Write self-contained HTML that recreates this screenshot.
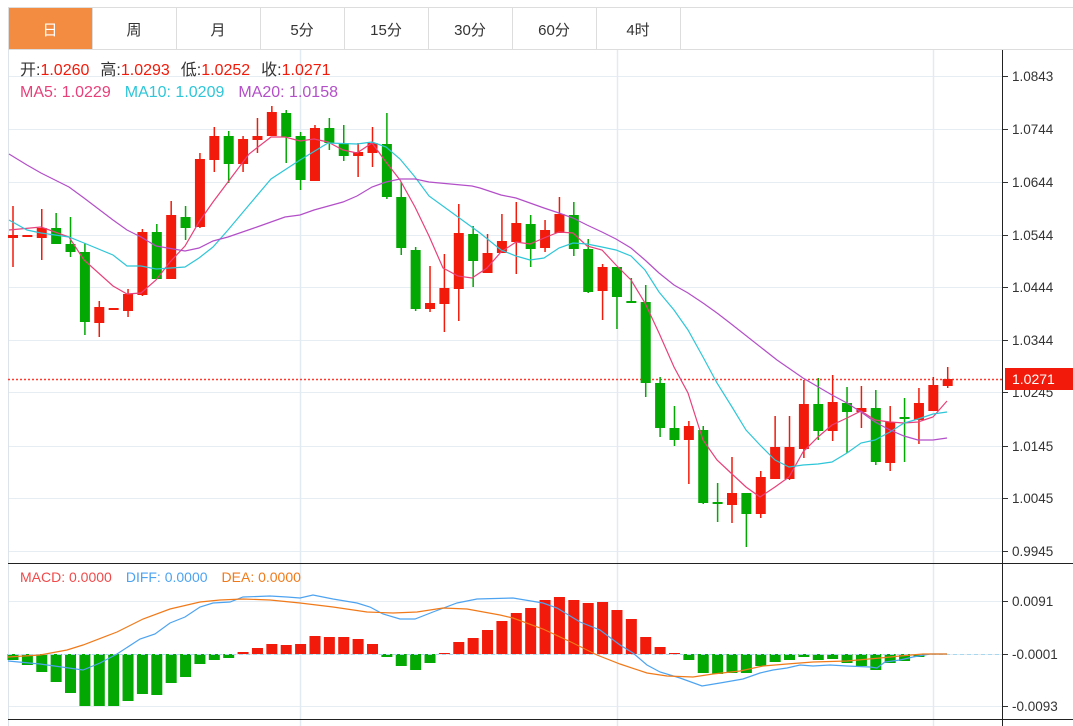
<!DOCTYPE html>
<html><head><meta charset="utf-8"><style>
body{margin:0;width:1073px;height:726px;background:#fff;overflow:hidden;font-family:"Liberation Sans","Noto Sans CJK SC",sans-serif;}
svg{position:absolute;left:0;top:0}
</style></head><body>
<svg id="s" width="1073" height="726" xmlns="http://www.w3.org/2000/svg" font-family="Liberation Sans, Noto Sans CJK SC, sans-serif"></svg>
<script>
const s=document.getElementById('s');let h='';
function L(x1,y1,x2,y2,c,w,d){h+=`<line x1="${x1}" y1="${y1}" x2="${x2}" y2="${y2}" stroke="${c}" stroke-width="${w||1}" ${d?`stroke-dasharray="${d}"`:''}/>`;}
function R(x,y,w,hh,c){h+=`<rect x="${x}" y="${y}" width="${w}" height="${hh}" fill="${c}"/>`;}
function T(x,y,t,c,sz,a){h+=`<text x="${x}" y="${y}" fill="${c}" font-size="${sz||14}" ${a?`text-anchor="${a}"`:''}>${t}</text>`;}
function P(pts,c,w){h+=`<polyline fill="none" stroke="${c}" stroke-width="${w||1.2}" points="${pts.map(p=>p.join(',')).join(' ')}"/>`;}
// tabs
L(8,7.5,1073,7.5,'#ddd');L(8,49.5,1073,49.5,'#ddd');
const tabs=['日','周','月','5分','15分','30分','60分','4时'];
R(9,8,83,41,'#f38c41');
for(let i=0;i<=8;i++){L(8.5+i*84,8,8.5+i*84,49,'#ddd');}
tabs.forEach((t,i)=>T(50+i*84,35,t,i?'#333':'#fff',15,'middle'));
// grid
const ys=[76,129,182,235,287,340,392,446,498,551];
ys.forEach(y=>L(8,y+.5,1002,y+.5,'#e6edf3'));
[601,654,706].forEach(y=>L(8,y+.5,1002,y+.5,'#e6edf3'));
[300,617,933].forEach(x=>L(x+.5,50,x+.5,726,'#e3ebf2',1.5));
L(8.5,50,8.5,726,'#dde3ea');
// axis
L(1002.5,50,1002.5,726,'#222');L(8,563.5,1073,563.5,'#222');L(8,719.5,1073,719.5,'#222');
const lab=['1.0843','1.0744','1.0644','1.0544','1.0444','1.0344','1.0245','1.0145','1.0045','0.9945'];
ys.forEach((y,i)=>{L(1003,y+.5,1008,y+.5,'#333');T(1012,y+5,lab[i],'#333',13.5);});
[[601,'0.0091'],[654,'-0.0001'],[706,'-0.0093']].forEach(a=>{L(1003,a[0]+.5,1008,a[0]+.5,'#333');T(1012,a[0]+5,a[1],'#333',13.5);});
// legend
h+=`<text x="20" y="75" font-size="16"><tspan fill="#333">开:</tspan><tspan fill="#f21a0a">1.0260</tspan><tspan fill="#333" dx="11">高:</tspan><tspan fill="#f21a0a">1.0293</tspan><tspan fill="#333" dx="11">低:</tspan><tspan fill="#f21a0a">1.0252</tspan><tspan fill="#333" dx="11">收:</tspan><tspan fill="#f21a0a">1.0271</tspan></text>`;
h+=`<text x="20" y="97" font-size="16"><tspan fill="#e8407a">MA5: 1.0229</tspan><tspan fill="#2ec6d8" dx="14">MA10: 1.0209</tspan><tspan fill="#b34fc8" dx="14">MA20: 1.0158</tspan></text>`;
h+=`<text x="20" y="582" font-size="14"><tspan fill="#f04a4a">MACD: 0.0000</tspan><tspan fill="#4da3f0" dx="14">DIFF: 0.0000</tspan><tspan fill="#f07a1a" dx="14">DEA: 0.0000</tspan></text>`;
// price line
L(8,379.5,1002,379.5,'#ff3b30',1.5,'2,2');
// candles
const C=`r 235 238 206 267|r 235 236 235 236|r 228 238 209 260|g 228 244 213 244|g 244 252 217 257|g 252 322 243 335|r 307 323 301 337|r 308 309 308 309|r 294 311 289 317|r 232 295 229 296|g 232 279 224 279|r 215 279 201 279|g 217 228 206 240|r 159 227 153 228|r 136 160 127 172|g 136 164 131 183|r 139 164 136 172|r 136 140 118 153|r 112 136 106 136|g 113 137 110 163|g 136 180 132 190|r 128 181 125 181|g 128 143 118 150|g 143 156 125 161|r 152 156 143 177|r 143 153 127 167|g 144 197 113 199|g 197 248 182 255|g 250 309 247 311|r 303 309 266 312|r 288 304 254 332|r 233 289 204 321|g 234 261 226 287|r 253 273 234 273|r 241 253 214 253|r 223 242 202 274|g 224 249 215 267|r 230 248 220 252|r 214 233 197 233|g 215 249 202 256|g 249 292 239 293|r 267 291 264 320|g 267 297 267 329|g 301 302 278 302|g 302 383 285 397|g 383 428 377 437|g 428 440 406 446|r 426 440 421 484|g 430 503 426 504|g 502 504 483 522|r 493 505 457 523|g 493 514 493 547|r 477 514 471 518|r 447 479 416 479|r 447 479 416 480|r 404 449 380 458|g 404 431 378 440|r 402 431 375 441|g 403 412 387 453|r 408 412 386 428|g 408 462 390 465|r 422 463 406 471|g 417 419 398 462|r 403 420 388 444|r 385 411 377 411|r 379 386 367 388`.split('|');
C.forEach((c,i)=>{const a=c.split(' ');const col=a[0]=='r'?'#f21a0a':'#03a803';const x=13+i*14.38;const t=+a[1],b=+a[2];
L(x,a[3],x,a[4],col,1.5);R(x-5,t,10,Math.max(2,b-t),col);});
// MAs
P([[9,230],[41,227],[69,237],[84,260],[113,286],[127,294],[141,293],[156,280],[170,262],[185,246],[199,222],[213,202],[228,182],[249,154],[271,137],[285,137],[300,141],[314,139],[328,142],[343,150],[357,153],[372,143],[386,162],[400,180],[415,207],[429,236],[443,268],[458,276],[472,278],[487,268],[501,252],[516,242],[530,244],[544,238],[559,232],[573,233],[587,246],[602,250],[616,265],[631,280],[645,303],[659,333],[674,367],[688,393],[703,440],[717,460],[732,474],[746,487],[760,497],[775,487],[789,477],[803,452],[818,437],[832,425],[847,418],[861,411],[875,420],[890,422],[904,423],[918,422],[933,417],[947,401]],'#e8407a');
P([[9,220],[27,230],[41,233],[69,237],[84,243],[113,255],[127,266],[141,266],[156,269],[185,267],[199,258],[213,247],[228,230],[249,205],[271,179],[300,160],[328,143],[357,144],[372,142],[386,147],[400,159],[415,177],[429,196],[458,217],[480,233],[501,250],[516,256],[530,260],[544,258],[559,248],[573,243],[587,244],[602,247],[616,250],[631,256],[645,270],[659,292],[674,310],[688,330],[703,357],[717,383],[732,407],[746,430],[760,445],[775,460],[789,467],[803,465],[818,464],[832,462],[847,453],[861,443],[875,440],[890,432],[904,423],[918,419],[933,414],[947,412]],'#2ec6d8');
P([[9,154],[27,165],[41,173],[69,187],[84,198],[113,220],[127,230],[141,237],[156,246],[185,251],[199,248],[213,241],[228,237],[257,227],[285,217],[300,215],[314,210],[343,202],[357,196],[372,187],[386,182],[400,179],[415,179],[429,182],[472,186],[480,188],[501,195],[516,198],[530,203],[544,208],[559,213],[573,218],[587,225],[602,232],[616,239],[631,248],[645,260],[659,273],[674,285],[688,293],[703,303],[717,313],[730,323],[777,360],[803,378],[832,395],[847,403],[861,412],[875,422],[890,430],[904,436],[918,440],[933,440],[947,438]],'#b34fc8');
// price tag
R(1005,368,68,22,'#f21a0a');T(1012,384,'1.0271','#fff',14);
// MACD bars
const B=[660,665,672,682,693,706,706,706,701,694,695,683,677,664,660,658,652,648,644,645,644,636,637,637,639,644,657,666,670,663,653,642,638,630,621,613,608,600,597,600,603,602,610,619,637,647,653,660,673,674,673,673,666,662,660,657,660,659,663,666,670,663,661,657,655,654];
B.forEach((v,i)=>{const x=13+i*14.38;if(i>=64)return;const col=v<654?'#f21a0a':'#03a803';if(v<654)R(x-5.5,v,11,654-v,col);else R(x-5.5,654,11,Math.max(1,v-654),col);});
L(8,654.5,1002,654.5,'#a9d8ee',1,'4,3');
P([[8,661],[40,664],[83,670],[100,663],[117,654],[140,639],[155,634],[170,623],[185,617],[200,607],[213,603],[230,602],[243,597],[270,596],[287,597],[300,598],[313,595],[333,599],[357,603],[370,607],[383,614],[400,619],[415,619],[433,612],[457,603],[477,599],[513,598],[543,603],[557,608],[580,622],[600,630],[620,645],[633,653],[647,665],[660,672],[680,678],[702,686],[720,683],[743,679],[760,673],[773,670],[787,668],[800,665],[813,666],[830,665],[847,666],[870,667],[877,668],[885,662],[900,660],[913,657],[930,654],[947,654]],'#4da3f0');
P([[8,657],[40,655],[67,650],[83,645],[117,632],[143,619],[170,609],[200,602],[220,600],[243,599],[270,600],[300,603],[333,607],[367,612],[393,613],[417,612],[443,608],[467,609],[500,615],[513,618],[543,629],[573,643],[597,655],[620,664],[647,673],[667,676],[693,677],[713,674],[740,671],[763,666],[787,664],[813,662],[847,661],[880,658],[900,656],[923,654],[947,654]],'#f07a1a');
s.innerHTML=h;
</script>
</body></html>
